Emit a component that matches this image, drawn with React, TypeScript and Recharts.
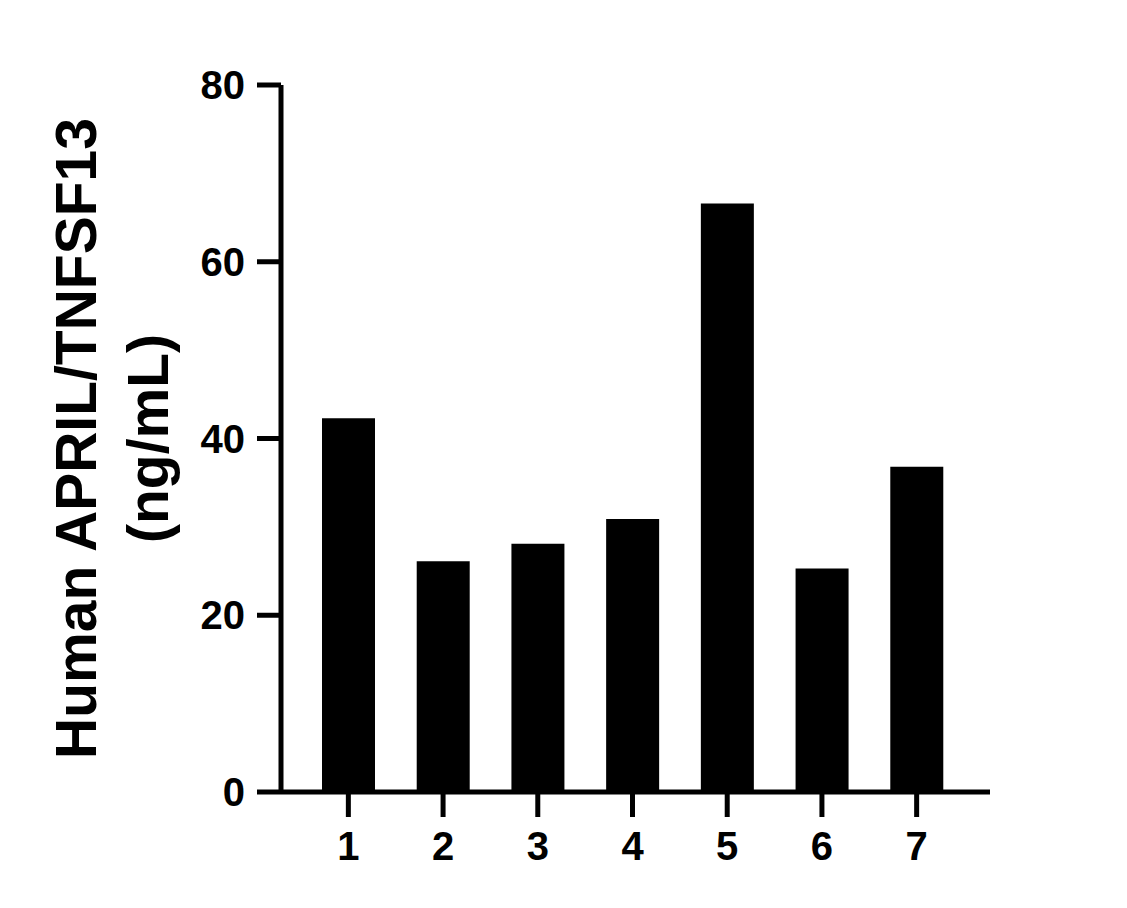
import React from 'react';
import { BarChart, Bar, XAxis, YAxis, Label } from 'recharts';

const categories = ['1', '2', '3', '4', '5', '6', '7'];
const values = [42.3, 26.1, 28.1, 30.9, 66.6, 25.3, 36.8];
const yTicks = [0, 20, 40, 60, 80];
const yLabelLines = ['Human APRIL/TNFSF13', '(ng/mL)'];

const data = categories.map((c, i) => ({ name: c, value: values[i] }));

const FONT = '"Liberation Sans", Arial, sans-serif';

const YLabel = (props: any) => {
  const vb = props.viewBox || {};
  const cy = vb.y + vb.height / 2;
  const xs = [96, 168];
  return (
    <g>
      {yLabelLines.map((t, i) => (
        <text
          key={i}
          x={xs[i]}
          y={cy}
          transform={`rotate(-90, ${xs[i]}, ${cy})`}
          textAnchor="middle"
          fontFamily={FONT}
          fontWeight="bold"
          fontSize={57}
          fill="#000"
        >
          {t}
        </text>
      ))}
    </g>
  );
};

export default function App() {
  return (
    <div style={{ position: 'absolute', left: 0, top: 0, width: 1127, height: 908, background: '#fff' }}>
      <BarChart
        width={1127}
        height={908}
        data={data}
        margin={{ top: 85, right: 137, bottom: 0, left: 0 }}
      >
        <XAxis
          dataKey="name"
          padding={{ left: 20, right: 26 }}
          axisLine={{ stroke: '#000', strokeWidth: 5 }}
          tickLine={{ stroke: '#000', strokeWidth: 5 }}
          tickSize={25}
          tickMargin={15}
          tick={{ fill: '#000', fontSize: 40, fontWeight: 'bold', fontFamily: FONT }}
          height={116}
        />
        <YAxis
          width={281}
          domain={[0, 80]}
          ticks={yTicks}
          interval={0}
          axisLine={{ stroke: '#000', strokeWidth: 5 }}
          tickLine={{ stroke: '#000', strokeWidth: 5 }}
          tickSize={24}
          tickMargin={12}
          tick={{ fill: '#000', fontSize: 40, fontWeight: 'bold', fontFamily: FONT }}
        >
          <Label content={<YLabel />} />
        </YAxis>
        <Bar dataKey="value" fill="#000" barSize={53} isAnimationActive={false} />
      </BarChart>
    </div>
  );
}
